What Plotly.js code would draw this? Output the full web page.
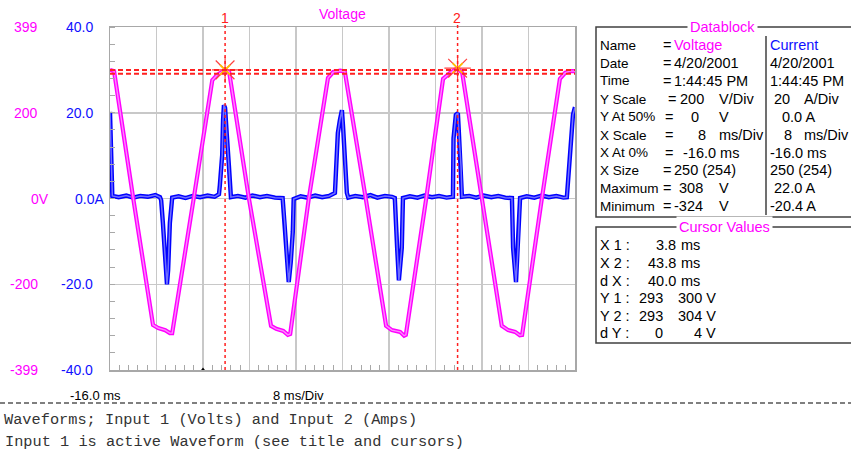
<!DOCTYPE html>
<html><head><meta charset="utf-8">
<script src="https://cdn.plot.ly/plotly-3.0.1.min.js"></script>
<style>html,body{margin:0;padding:0;background:#fff;overflow:hidden}#chart{width:851px;height:452px}</style>
</head><body><div id="chart"></div>
<script>
// ---- data ----
const timeV = [-16.0,-15.3,-12.0,-8.6,-7.7,-6.5,-5.7,-5.3,-1.6,1.6,2.4,3.8,4.5,7.9,
  11.7,12.6,13.8,14.6,15.0,18.2,21.5,22.4,23.6,24.4,28.0,
  31.5,32.5,33.9,34.6,34.9,38.4,41.3,42.5,43.8,44.6,48.0,
  51.4,52.5,53.7,54.5,54.9,58.3,61.4,62.3,63.1,64.0];
const volts = [300,297,0,-295,-302,-307,-314,-314,0,276,288,300,295,0,
  -297,-304,-309,-318,-316,0,281,295,298,296,0,
  -297,-307,-311,-320,-318,0,279,293,304,293,0,
  -297,-307,-311,-319,-318,0,279,293,297,297];
const timeI = [-16.0,-15.8,-15.6,-14.5,-13.2,-12.0,-10.8,-9.5,-8.2,-7.4,-7.2,-6.9,-6.5,-6.2,-6.0,-5.7,-5.3,
  -4.2,-3.0,-1.8,-0.5,0.8,2.0,2.75,2.9,3.3,3.45,3.6,3.8,3.95,4.1,4.45,4.65,4.8,
  6.0,7.3,8.5,9.8,11.0,12.4,13.7,14.05,14.4,14.75,15.1,15.45,15.6,
  16.8,18.0,19.3,20.5,21.7,22.7,23.2,23.55,23.9,24.1,24.4,24.75,25.0,
  26.2,27.5,28.8,30.0,31.3,32.5,33.0,33.4,33.7,34.2,34.4,
  35.6,36.9,38.1,39.4,40.6,41.9,43.0,43.1,43.5,43.85,44.0,44.4,44.55,
  45.8,47.0,48.3,49.6,50.8,52.0,53.15,53.35,53.85,54.2,54.55,
  55.7,57.0,58.3,59.5,60.8,62.0,62.6,62.95,63.3,63.65,64.0];
const amps = [20.2,11.0,0.6,0.3,0.7,0.2,0.6,0.4,0.8,0.3,-0.4,-5.7,-13.6,-20.0,-16.7,-5.7,0.2,
  0.5,0.1,0.6,0.3,0.7,0.4,1.0,3.1,10.1,18.3,21.8,21.1,18.8,14.8,7.8,1.5,0.3,
  0.6,0.2,0.7,0.3,0.6,0.2,0.1,-5.5,-13.2,-19.5,-14.8,-7.8,-0.1,
  0.5,0.2,0.7,0.3,0.6,1.3,15.3,18.3,20.6,16.7,9.0,1.3,0.2,
  0.6,0.3,0.8,0.2,0.6,0.4,0.1,-11.5,-19.1,-11.5,0.1,
  0.5,0.2,0.7,0.3,0.6,0.2,0.4,14.0,19.5,19.9,16.0,7.3,0.4,
  0.6,0.2,0.7,0.3,0.6,0.2,0.1,-11.5,-19.5,-11.5,0.1,
  0.5,0.2,0.7,0.3,0.6,0.2,0.3,6.6,13.6,19.5,21.3];
const cursorX = [3.8, 43.8];
const cursorV = [300, 304];
const cursorLevels = [300, 291];
const cursorNames = ['1','2'];
const triggerX = [0];
const voltTickText = ['399','200','0V','-200','-399'];
const ampTickText = ['40.0','20.0','0.0A','-20.0','-40.0'];
const ampTickVals = [40,20,0,-20,-40];

const dbLabels = ['Name','Date','Time','Y Scale','Y At 50%','X Scale','X At 0%','X Size','Maximum','Minimum'];
const dbVolt = ['Voltage','4/20/2001','1:44:45 PM','200','0','8','-16.0 ms','250 (254)','308','-324'];
const dbVoltUnit = ['','','','V/Div','V','ms/Div','','','V','V'];
const dbCurr = ['Current','4/20/2001','1:44:45 PM','20','0.0 A','8','-16.0 ms','250 (254)','22.0 A','-20.4 A'];
const dbCurrUnit = ['','','','A/Div','','ms/Div','','','',''];
const cvLabels = ['X 1 :','X 2 :','d X :','Y 1 :','Y 2 :','d Y :'];
const cvCol1 = ['3.8','43.8','40.0','293','293','0'];
const cvCol2 = ['ms','ms','ms','300 V','304 V','4 V'];
const footer = ['Waveforms; Input 1 (Volts) and Input 2 (Amps)','Input 1 is active Waveform (see title and cursors)'];

// ---- layout helpers (pixel -> paper) ----
const L=110,R=575,T=27,B=370;
const px = x => (x-L)/(R-L);
const py = y => (B-y)/(B-T);
const SANS = 'Liberation Sans, Arial, sans-serif';
const PINK='#ff00ff', BLUE='#1010ff', RED='#ff2020';
const ann = [];
function txt(text,x,y,opt){
  opt=opt||{};
  ann.push({text:text,xref:'paper',yref:'paper',x:px(x),y:py(y),showarrow:false,
    xanchor:opt.xa||'left',yanchor:'middle',
    font:{family:opt.family||SANS,size:opt.size||14.5,color:opt.color||'#000'},
    bgcolor:opt.bg||'rgba(0,0,0,0)',borderpad:opt.pad||0});
}
// axis labels
const tickY=[27,113,199,284,370];
const voltRight=[39,39,50,39,39];
const ampRight=[94,94,105,94,94];
voltTickText.forEach((t,i)=>txt(t,voltRight[i],tickY[i],{xa:'right',color:PINK,size:14}));
ampTickText.forEach((t,i)=>txt(t,ampRight[i],tickY[i],{xa:'right',color:BLUE,size:14}));
// title and cursor names
txt('Voltage',342,14,{xa:'center',color:PINK,size:14});
txt(cursorNames[0],225,18,{xa:'center',color:RED,size:14});
txt(cursorNames[1],457,18,{xa:'center',color:RED,size:14});
// bottom axis text
txt('-16.0 ms',95,395,{xa:'center',size:13});
txt('8 ms/Div',298,395,{xa:'center',size:13});
// datablock
const rowY=[45,63,80.5,99,116.5,135,152.5,170,188,206];
const eqX=[662,662,662,667,664,664,664,662,662,662];
const vX=[673,673,673,679,690,697,682,673,678,673];
const cX=[769,769,769,773,781,783,769,769,773,769];
dbLabels.forEach((l,i)=>{
  txt(l,599,rowY[i],{size:13.5});
  txt('=',eqX[i],rowY[i]);
  txt(dbVolt[i],vX[i],rowY[i],{color:i===0?PINK:'#000'});
  if(dbVoltUnit[i]) txt(dbVoltUnit[i],718,rowY[i]);
  txt(dbCurr[i],cX[i],rowY[i],{color:i===0?BLUE:'#000'});
  if(dbCurrUnit[i]) txt(dbCurrUnit[i],803,rowY[i]);
});
txt('Datablock',722,27,{xa:'center',color:PINK,bg:'#fff',pad:2});
// cursor values
const cvY=[245,263,281,298,316,333];
cvLabels.forEach((l,i)=>{
  txt(l,599,cvY[i]);
  if(i<3){ txt(cvCol1[i],677,cvY[i],{xa:'right'}); txt(cvCol2[i],680,cvY[i]); }
  else { txt(cvCol1[i],664,cvY[i],{xa:'right'}); txt(cvCol2[i],717,cvY[i],{xa:'right'}); }
});
txt('Cursor Values',724,227,{xa:'center',color:PINK,bg:'#fff',pad:2});
// footer
txt(footer[0],3,420,{family:'Liberation Mono, Courier New, monospace',size:15.3,color:'#333'});
txt(footer[1],4,442,{family:'Liberation Mono, Courier New, monospace',size:15.3,color:'#333'});

const shapes=[];
shapes.push({type:'rect',xref:'paper',yref:'paper',x0:px(596),x1:px(900),y0:py(217),y1:py(27),line:{color:'#404040',width:1.5},layer:'below'});
shapes.push({type:'line',xref:'paper',yref:'paper',x0:px(766),x1:px(766),y0:py(215),y1:py(36),line:{color:'#404040',width:1.5}});
shapes.push({type:'rect',xref:'paper',yref:'paper',x0:px(596),x1:px(900),y0:py(343),y1:py(227),line:{color:'#404040',width:1.5},layer:'below'});
shapes.push({type:'line',xref:'paper',yref:'paper',x0:px(0),x1:px(851),y0:py(403),y1:py(403),line:{color:'#000',width:1.2,dash:'5px,3px'}});
cursorX.forEach(cx=>shapes.push({type:'line',xref:'x',yref:'paper',x0:cx,x1:cx,y0:0,y1:py(25),line:{color:RED,width:1.5,dash:'3px,3px'}}));
cursorLevels.forEach(cv=>shapes.push({type:'line',xref:'paper',yref:'y2',x0:0,x1:1,y0:cv,y1:cv,line:{color:RED,width:2,dash:'5px,3px'}}));

const traces=[
 {x:timeI,y:amps,yaxis:'y',mode:'lines',line:{color:'#0000ff',width:4.4},hoverinfo:'skip'},
 {x:timeI,y:amps,yaxis:'y',mode:'lines',line:{color:'#7070ff',width:1.5},hoverinfo:'skip'},
 {x:timeV,y:volts,yaxis:'y2',mode:'lines',line:{color:'#ff00ff',width:4.2},hoverinfo:'skip'},
 {x:timeV,y:volts,yaxis:'y2',mode:'lines',line:{color:'#ff88ff',width:1.4},hoverinfo:'skip'},
 {x:cursorX,y:cursorV,yaxis:'y2',mode:'markers',marker:{symbol:'asterisk-open',size:22,color:'#ff4040',line:{color:'#ff4040',width:1.2}},hoverinfo:'skip'},
 {x:cursorX,y:cursorV,yaxis:'y2',mode:'markers',marker:{symbol:'x-thin-open',size:10,color:'#ffc000',line:{color:'#ffc000',width:1.8}},hoverinfo:'skip'},
 {x:triggerX,y:[-40],yaxis:'y',mode:'markers',marker:{symbol:'triangle-up',size:5,color:'#000'},cliponaxis:false,hoverinfo:'skip'}
];

const layout={
  width:851,height:452,margin:{l:L,r:851-R,t:T,b:452-B,pad:0},
  paper_bgcolor:'#fff',plot_bgcolor:'#fff',showlegend:false,
  xaxis:{range:[-16,64],tick0:-16,dtick:8,showgrid:true,gridcolor:'#c8c8c8',gridwidth:1.5,
    showticklabels:false,ticks:'',zeroline:false,showline:true,mirror:true,linecolor:'#a8a8a8',linewidth:1.5,
    minor:{dtick:1.6,tick0:-16,ticks:'inside',ticklen:5,tickcolor:'#a8a8a8',tickwidth:1,showgrid:false},fixedrange:true},
  yaxis:{range:[-40,40],tickvals:ampTickVals,showgrid:true,gridcolor:'#c8c8c8',gridwidth:1.5,
    showticklabels:false,ticks:'',zeroline:false,showline:true,mirror:true,linecolor:'#a8a8a8',linewidth:1.5,
    minor:{dtick:4,tick0:0,ticks:'inside',ticklen:5,tickcolor:'#a8a8a8',tickwidth:1,showgrid:false},fixedrange:true},
  yaxis2:{range:[-400,400],overlaying:'y',side:'left',showgrid:false,showticklabels:false,ticks:'',zeroline:false,showline:false,fixedrange:true},
  annotations:ann,shapes:shapes
};
Plotly.newPlot('chart',traces,layout,{staticPlot:true,displayModeBar:false});
</script></body></html>
